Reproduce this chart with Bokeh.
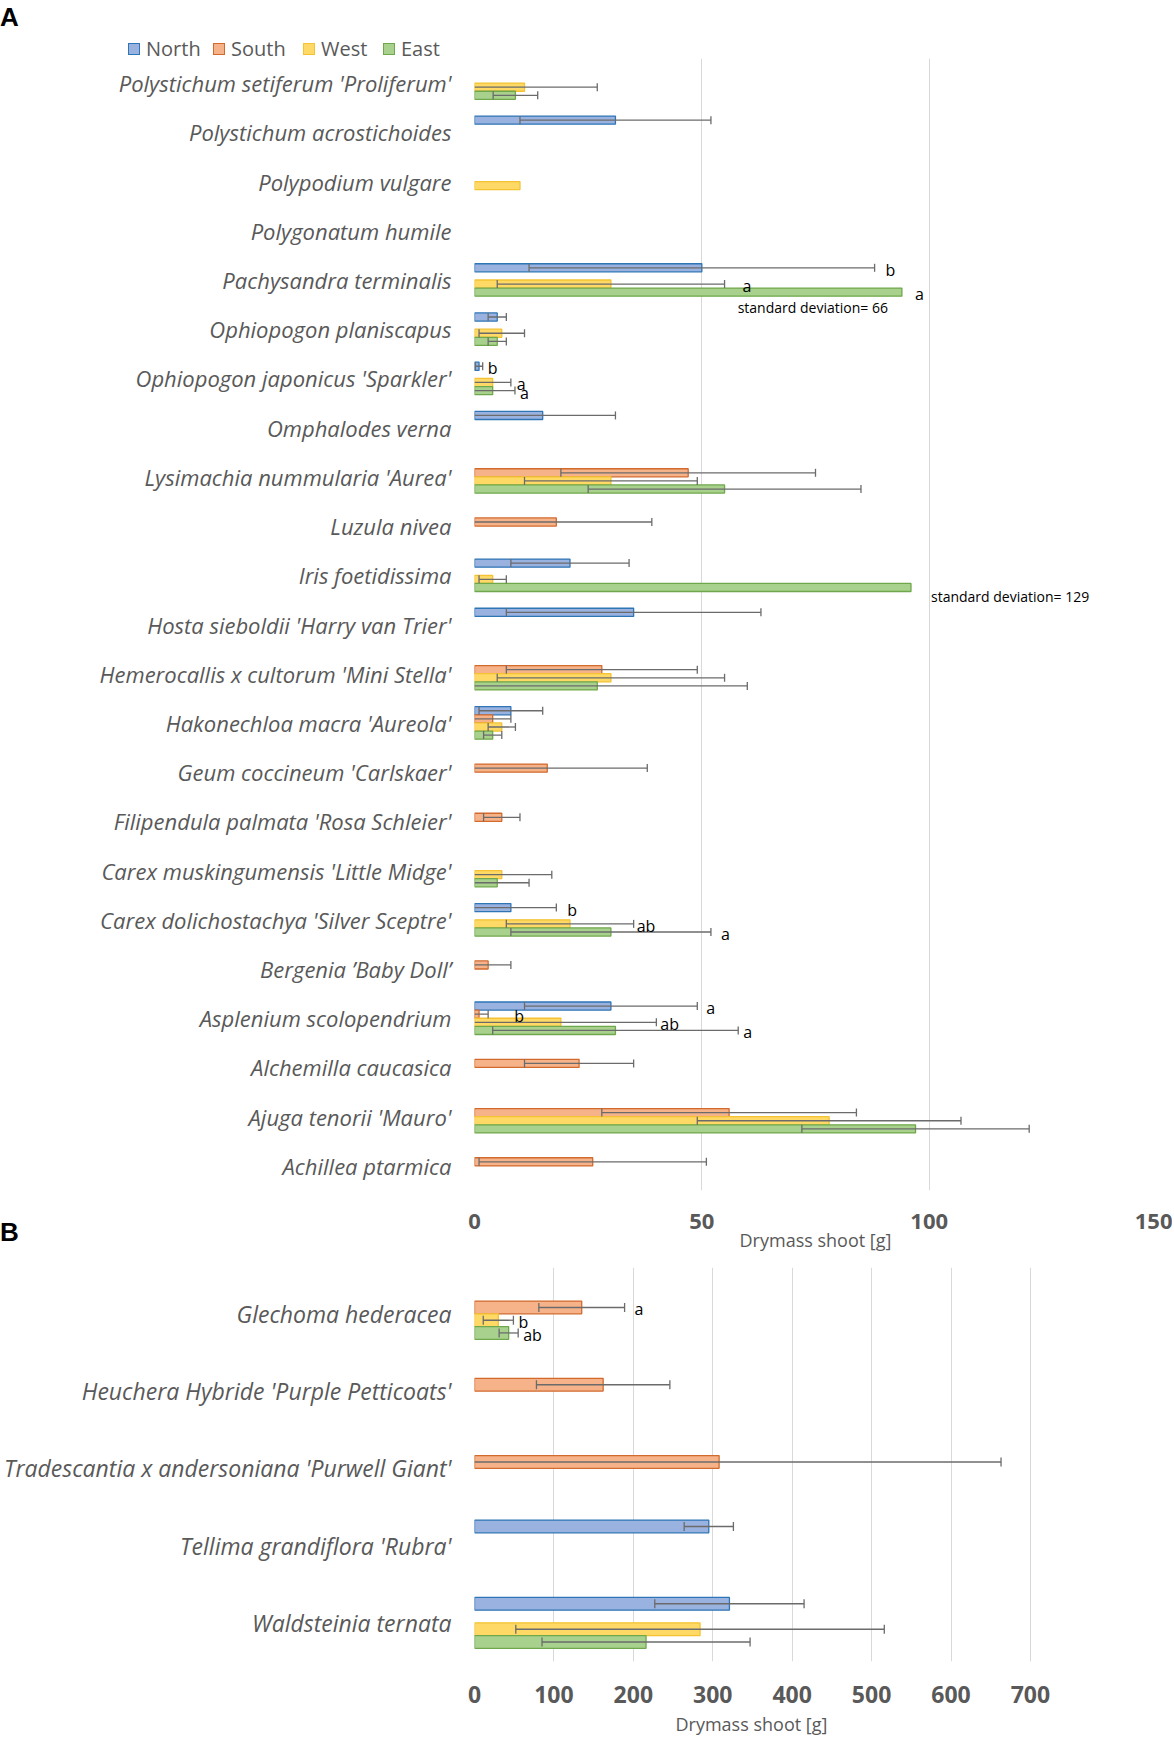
import numpy as np
from bokeh.plotting import figure
from bokeh.models import FixedTicker, Range1d, Div, Title
from bokeh.layouts import column
from bokeh.embed import file_html
from bokeh.resources import INLINE
from bokeh.core.properties import value

# ---------------- data ----------------
series = ["North", "South", "West", "East"]

cats_a = ["Polystichum setiferum 'Proliferum'", "Polystichum acrostichoides", "Polypodium vulgare",
          "Polygonatum humile", "Pachysandra terminalis", "Ophiopogon planiscapus",
          "Ophiopogon japonicus 'Sparkler'", "Omphalodes verna", "Lysimachia nummularia 'Aurea'",
          "Luzula nivea", "Iris foetidissima", "Hosta sieboldii 'Harry van Trier'",
          "Hemerocallis x cultorum 'Mini Stella'", "Hakonechloa macra 'Aureola'",
          "Geum coccineum 'Carlskaer'", "Filipendula palmata 'Rosa Schleier'",
          "Carex muskingumensis 'Little Midge'", "Carex dolichostachya 'Silver Sceptre'",
          "Bergenia \u2019Baby Doll\u2019", "Asplenium scolopendrium", "Alchemilla caucasica",
          "Ajuga tenorii 'Mauro'", "Achillea ptarmica"]

north_a = [None, 31, None, None, 50, 5, 1, 15, None, None, 21, 35, None, 8, None, None, None, 8, None, 30, None, None, None]
north_a_sd = [None, 21, None, None, 38, 2, 0.8, 16, None, None, 13, 28, None, 7, None, None, None, 10, None, 19, None, None, None]
south_a = [None, None, None, None, None, None, None, None, 47, 18, None, None, 28, 4, 16, 6, None, None, 3, 1, 23, 56, 26]
south_a_sd = [None, None, None, None, None, None, None, None, 28, 21, None, None, 21, 4, 22, 4, None, None, 5, 2, 12, 28, 25]
west_a = [11, None, 10, None, 30, 6, 4, None, 30, None, 4, None, 30, 6, None, None, 6, 21, None, 19, None, 78, None]
west_a_sd = [16, None, None, None, 25, 5, 4, None, 19, None, 3, None, 25, 3, None, None, 11, 14, None, 21, None, 29, None]
east_a = [9, None, None, None, 94, 5, 4, None, 55, None, 96, None, 27, 4, None, None, 5, 30, None, 31, None, 97, None]
east_a_sd = [4.9, None, None, None, 66, 2, 4.9, None, 30, None, 129, None, 33, 2, None, None, 7, 22, None, 27, None, 25, None]

letters_a_cat = ["Pachysandra terminalis"] * 3 + ["Ophiopogon japonicus 'Sparkler'"] * 3 + \
                ["Carex dolichostachya 'Silver Sceptre'"] * 3 + ["Asplenium scolopendrium"] * 4
letters_a_ser = ["North", "West", "East", "North", "West", "East", "North", "West", "East",
                 "North", "South", "West", "East"]
letters_a_txt = ["b", "a", "a", "b", "a", "a", "b", "ab", "a", "a", "b", "ab", "a"]

notes_a_cat = ["Pachysandra terminalis", "Iris foetidissima"]
notes_a_ser = ["East", "East"]
notes_a_txt = ["standard deviation= 66", "standard deviation= 129"]

cats_b = ["Glechoma hederacea", "Heuchera Hybride 'Purple Petticoats'",
          "Tradescantia x andersoniana 'Purwell Giant'", "Tellima grandiflora 'Rubra'",
          "Waldsteinia ternata"]
north_b = [None, None, None, 295, 321]
north_b_sd = [None, None, None, 31, 94]
south_b = [135, 162, 308, None, None]
south_b_sd = [54, 84, 355, None, None]
west_b = [30, None, None, None, 284]
west_b_sd = [19, None, None, None, 232]
east_b = [43, None, None, None, 216]
east_b_sd = [12, None, None, None, 131]

letters_b_cat = ["Glechoma hederacea"] * 3
letters_b_ser = ["South", "West", "East"]
letters_b_txt = ["a", "b", "ab"]

ticks_a = [0, 50, 100, 150]
ticks_b = [0, 100, 200, 300, 400, 500, 600, 700]

# ---------------- style ----------------
fills = {"North": "#9AB2DF", "South": "#F6B38A", "West": "#FFD966", "East": "#A9D18E"}
lines = {"North": "#2E75B6", "South": "#D26A2E", "West": "#F4C232", "East": "#6FA84B"}
GRAY = "#595959"
ERR = "#6B6B6B"
FONT = "Open Sans"
W = 1172
LEFT = 469
RIGHT = 16
# pixel nudges of the significance letters (label placement style, as in the original)
letters_a_dx = [11, 18, 13, 5, 6, 5, 11, 3, 10, 9, 26, 4, 5]
letters_b_dx = [10, 5, 5]
legend_x = [128, 213, 303, 383]


def style_fig(p, ticks, cats, ylab_size, xlab_size):
    n = len(cats)
    p.outline_line_color = None
    p.background_fill_color = "white"
    t = FixedTicker(ticks=ticks)
    p.xaxis.ticker = t
    p.xgrid.ticker = t
    p.xgrid.grid_line_color = "#D9D9D9"
    p.xgrid.grid_line_width = 1
    p.ygrid.grid_line_color = None
    for ax in (p.xaxis, p.yaxis):
        ax.axis_line_color = None
        ax.major_tick_line_color = None
        ax.minor_tick_line_color = None
        ax.major_tick_out = 0
        ax.major_tick_in = 0
        ax.minor_tick_out = 0
    p.xaxis.major_label_text_font = FONT
    p.xaxis.major_label_text_font_style = "bold"
    p.xaxis.major_label_text_font_size = xlab_size
    p.xaxis.major_label_text_color = GRAY
    p.xaxis.axis_label_text_font = FONT
    p.xaxis.axis_label_text_font_style = "normal"
    p.xaxis.axis_label_text_font_size = "18px"
    p.xaxis.axis_label_text_color = GRAY
    p.yaxis.ticker = FixedTicker(ticks=list(range(n)))
    p.yaxis.major_label_overrides = {n - 1 - i: c for i, c in enumerate(cats)}
    p.yaxis.major_label_text_font = FONT
    p.yaxis.major_label_text_font_style = "italic"
    p.yaxis.major_label_text_font_size = ylab_size
    p.yaxis.major_label_text_color = GRAY
    p.yaxis.major_label_standoff = 23


def draw(p, cats, means, sds, slot, cap_px, xmax, letters, letter_dx, notes=None):
    n = len(cats)
    base = {c: n - 1 - i for i, c in enumerate(cats)}
    off = {"North": 1.5 * slot, "South": 0.5 * slot, "West": -0.5 * slot, "East": -1.5 * slot}
    for s in series:
        ys, xs = [], []
        for i, c in enumerate(cats):
            if means[s][i] is not None:
                ys.append(base[c] + off[s])
                xs.append(means[s][i])
        p.hbar(y=ys, left=0, right=xs, height=slot, fill_color=fills[s],
               line_color=lines[s], line_width=1.3)
    x0, x1, yy, capx, capy = [], [], [], [], []
    for s in series:
        for i, c in enumerate(cats):
            m, sd = means[s][i], sds[s][i]
            if m is None or sd is None or m + sd > xmax:
                continue
            y = base[c] + off[s]
            lo = max(m - sd, 0)
            x0.append(lo); x1.append(m + sd); yy.append(y)
            capx.append(m + sd); capy.append(y)
            if m - sd > 0:
                capx.append(m - sd); capy.append(y)
    p.segment(x0=x0, y0=yy, x1=x1, y1=yy, line_color=ERR, line_width=1.3)
    p.scatter(x=capx, y=capy, marker="dash", angle=np.pi / 2, size=cap_px,
              line_color=ERR, line_width=1.3)
    lc, ls, lt = letters
    for c, s, t, dx in zip(lc, ls, lt, letter_dx):
        i = cats.index(c)
        m, sd = means[s][i], sds[s][i]
        end = m + sd if (sd is not None and m + sd <= xmax) else m
        p.text(x=[end], y=[base[c] + off[s]], text=[t], x_offset=dx, y_offset=2,
               text_baseline="middle", text_font=value(FONT), text_font_size="16px",
               text_color="black")
    if notes:
        nc, ns, nt = notes
        for c, s, t, al, dx, dy in zip(nc, ns, nt, ["right", "left"], [-14, 20], [15, 9]):
            i = cats.index(c)
            p.text(x=[means[s][i]], y=[base[c] + off[s]], text=[t], text_align=al,
                   x_offset=dx, y_offset=dy, text_baseline="middle",
                   text_font=value(FONT), text_font_size="14px", text_color="black")


# ---------------- header: panel letter + legend ----------------
items = "".join(
    f'<div style="position:absolute;left:{x}px;top:0px;height:26px;display:flex;align-items:center;">'
    f'<span style="display:inline-block;width:12px;height:12px;background:{fills[s]};'
    f'border:1px solid {lines[s]};margin-right:6px;"></span>{s}</div>'
    for s, x in zip(series, legend_x))
hdr_html = (
    '<div style="position:relative;width:1172px;height:58px;">'
    '<div style="position:absolute;left:0px;top:2px;line-height:30px;'
    'font-family:\'Liberation Sans\';font-weight:bold;font-size:26px;color:black;">A</div>'
    '<div style="position:absolute;left:0px;top:36px;width:1172px;height:26px;'
    f'font-family:\'Open Sans\';font-size:20px;color:{GRAY};white-space:nowrap;">{items}</div>'
    '</div>')
hdr = Div(text=hdr_html, width=W, height=58, margin=0)

# ---------------- panel A ----------------
A_END = 1264
HA = A_END - 58
pA = figure(width=W, height=HA, x_range=Range1d(0, 150),
            y_range=Range1d(-0.5, len(cats_a) - 0.5), output_backend="svg",
            toolbar_location=None, min_border_left=LEFT, min_border_right=RIGHT,
            min_border_top=0, min_border_bottom=A_END - 1190)
style_fig(pA, ticks_a, cats_a, "22px", "22px")
pA.xaxis.axis_label = "Drymass shoot [g]"
pA.xaxis.major_label_standoff = 23
pA.xaxis.axis_label_standoff = -4

means_a = {"North": north_a, "South": south_a, "West": west_a, "East": east_a}
sds_a = {"North": north_a_sd, "South": south_a_sd, "West": west_a_sd, "East": east_a_sd}
draw(pA, cats_a, means_a, sds_a, 0.165, 8, 150,
     (letters_a_cat, letters_a_ser, letters_a_txt), letters_a_dx,
     (notes_a_cat, notes_a_ser, notes_a_txt))

# ---------------- panel letter B ----------------
bdiv = Div(text='<div style="line-height:30px;font-family:\'Liberation Sans\';font-weight:bold;'
                'font-size:26px;color:black;">B</div>',
           width=40, height=30, margin=(1217 - A_END, 0, A_END - 1247, 0))

# ---------------- panel B ----------------
B_START = A_END
B_END = 1739
pB = figure(width=W, height=B_END - B_START, x_range=Range1d(0, (W - LEFT - RIGHT) / 0.8),
            y_range=Range1d(-0.5, 4.6), output_backend="svg",
            toolbar_location=None, min_border_left=LEFT, min_border_right=RIGHT,
            min_border_top=1267 - B_START, min_border_bottom=B_END - 1662)
style_fig(pB, ticks_b, cats_b, "23px", "23px")
pB.xaxis.major_label_standoff = 24
# axis title centred under the 0-700 scale
pB.add_layout(Title(text="Drymass shoot [g]", align="left", offset=201, standoff=8,
                    text_font=FONT, text_font_size="18px", text_font_style="normal",
                    text_color=GRAY), "below")

means_b = {"North": north_b, "South": south_b, "West": west_b, "East": east_b}
sds_b = {"North": north_b_sd, "South": south_b_sd, "West": west_b_sd, "East": east_b_sd}
draw(pB, cats_b, means_b, sds_b, 0.165, 9, 700,
     (letters_b_cat, letters_b_ser, letters_b_txt), letters_b_dx)

layout = column(hdr, pA, bdiv, pB, spacing=0)
open("out.html", "w").write(file_html(layout, INLINE))
